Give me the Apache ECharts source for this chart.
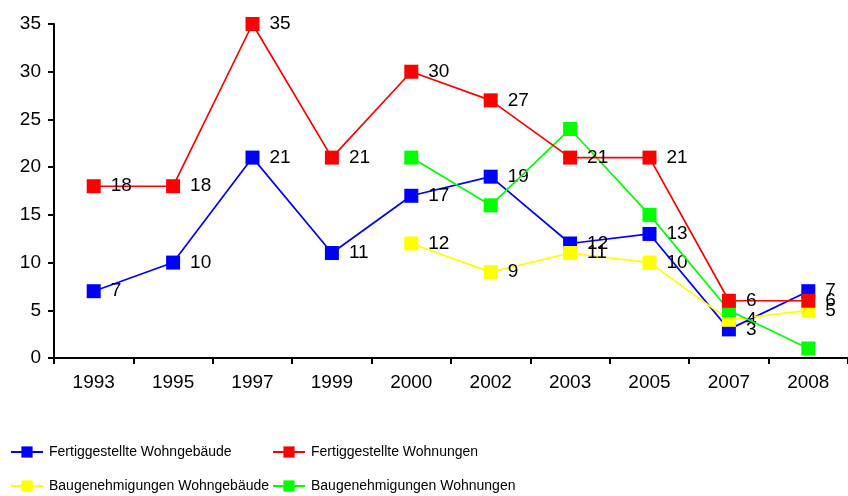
<!DOCTYPE html>
<html><head><meta charset="utf-8">
<script src="https://cdn.jsdelivr.net/npm/echarts@6/dist/echarts.min.js"></script>
<style>html,body{margin:0;padding:0;background:#fff}#c{width:848px;height:496px}</style>
</head><body><div id="c"></div>
<script>
var categories = ['1993','1995','1997','1999','2000','2002','2003','2005','2007','2008'];
var fertigGebaeude = [7,10,21,11,17,19,12,13,3,7];
var fertigWohnungen = [18,18,35,21,30,27,21,21,6,6];
var bauGebaeude = [null,null,null,null,12,9,11,10,4,5];
var bauWohnungen = [null,null,null,null,21,16,24,15,5,1];
var seriesNames = ['Fertiggestellte Wohngebäude','Fertiggestellte Wohnungen','Baugenehmigungen Wohngebäude','Baugenehmigungen Wohnungen'];

var chart = echarts.init(document.getElementById('c'), null, {renderer:'canvas'});
var font = 'Liberation Sans, Arial, sans-serif';
function mk(name, data, color, showLabel, z){
  return {
    name: name, type: 'line', data: data, z: z,
    symbol: 'rect', symbolSize: 14, showSymbol: true,
    lineStyle: {color: color, width: 1.7},
    itemStyle: {color: color},
    connectNulls: false,
    animation: false,
    label: {show: showLabel, position: 'right', distance: 10, color: '#000', fontSize: 19, fontFamily: font}
  };
}
function lg(name, left, top){
  return {data: [name], left: left, top: top, itemWidth: 32, itemHeight: 14, itemGap: 6, padding: 0,
    textStyle: {fontSize: 14, fontFamily: font, color: '#000', padding: [0,0,0,1]}};
}
chart.setOption({
  animation: false,
  grid: {left: 54, top: 24, bottom: 138, right: -6, containLabel: false},
  legend: [
    lg(seriesNames[0], 10, 445),
    lg(seriesNames[1], 272, 445),
    lg(seriesNames[2], 10, 479),
    lg(seriesNames[3], 272, 479)
  ],
  xAxis: {
    type: 'category', data: categories, boundaryGap: true,
    axisLine: {lineStyle: {color: '#000', width: 2}},
    axisTick: {show: true, length: 6, lineStyle: {color: '#000', width: 2}},
    axisLabel: {color: '#000', fontSize: 19, fontFamily: font, margin: 15},
    splitLine: {show: false}
  },
  yAxis: {
    type: 'value', min: 0, max: 35, interval: 5,
    axisLine: {show: true, lineStyle: {color: '#000', width: 2}},
    axisTick: {show: true, length: 6, lineStyle: {color: '#000', width: 2}},
    axisLabel: {color: '#000', fontSize: 19, fontFamily: font, margin: 13},
    splitLine: {show: false}
  },
  series: [
    mk(seriesNames[0], fertigGebaeude, '#0000ff', true, 2),
    mk(seriesNames[1], fertigWohnungen, '#ff0000', true, 5),
    mk(seriesNames[2], bauGebaeude, '#ffff00', true, 3),
    mk(seriesNames[3], bauWohnungen, '#00ff00', false, 4)
  ]
});
</script></body></html>
